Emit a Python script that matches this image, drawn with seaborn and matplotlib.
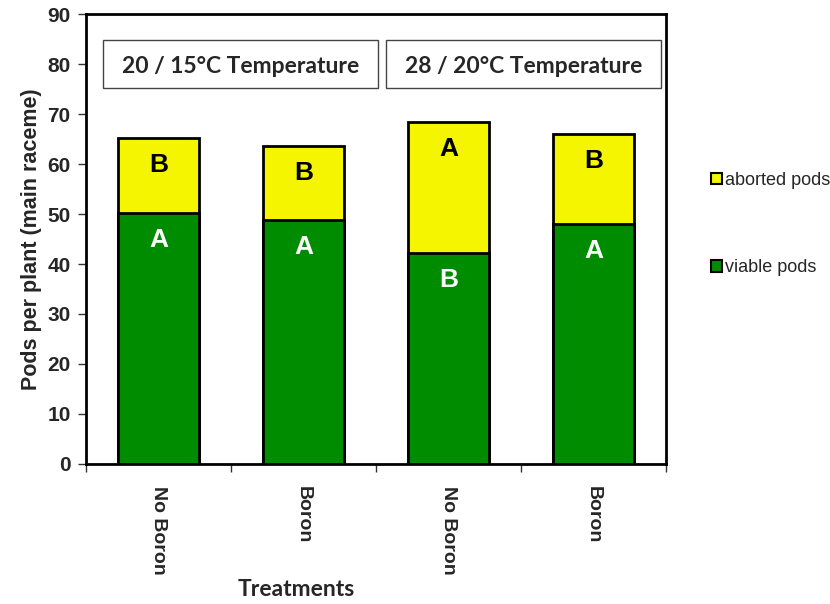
import matplotlib
matplotlib.use("Agg")
import matplotlib.pyplot as plt
import pandas as pd
import seaborn as sns
from matplotlib.patches import Patch

treatments = ["No Boron", "Boron", "No Boron", "Boron"]
positions = ["t1", "t2", "t3", "t4"]
viable_pods = [50.2, 48.8, 42.2, 48.0]
aborted_pods = [15.0, 14.8, 26.2, 18.0]
viable_letters = ["A", "A", "B", "A"]
aborted_letters = ["B", "B", "A", "B"]
temperature_labels = ["20 / 15°C Temperature", "28 / 20°C Temperature"]

GREEN = "#008c00"
YELLOW = "#f5f500"

data = pd.DataFrame(
    {
        "pos": positions,
        "viable": viable_pods,
        "total": [v + a for v, a in zip(viable_pods, aborted_pods)],
    }
)

sns.set_theme(style="white")
plt.rcParams["font.family"] = ["Liberation Sans", "DejaVu Sans"]

fig = plt.figure(figsize=(8.3, 6.04), dpi=100)
ax = fig.add_axes([0.1036, 0.2318, 0.6988, 0.745])

sns.barplot(data=data, x="pos", y="total", color=YELLOW, saturation=1,
            width=0.56, edgecolor="black", linewidth=2, ax=ax)
sns.barplot(data=data, x="pos", y="viable", color=GREEN, saturation=1,
            width=0.56, edgecolor="black", linewidth=2, ax=ax)

for i, (v, t) in enumerate(zip(data["viable"], data["total"])):
    ax.text(i, v - 5.3, viable_letters[i], ha="center", va="center",
            color="white", fontsize=19, fontweight="bold")
    ax.text(i, t - 5.3, aborted_letters[i], ha="center", va="center",
            color="black", fontsize=19, fontweight="bold")

# temperature boxes
for x0, label in zip([-0.383, 1.569], temperature_labels):
    ax.text(x0 + 0.95, 79.6, label, ha="center", va="center", fontsize=16.5,
            fontweight="bold", family=["Lato", "DejaVu Sans"])
    ax.add_patch(plt.Rectangle((x0, 75.2), 1.9, 9.6, fill=False,
                               edgecolor="#444444", linewidth=1))

ax.set_xlim(-0.5, 3.5)
ax.set_ylim(0, 90)
ax.set_yticks(range(0, 91, 10))
ax.set_xticks(range(4))
ax.set_xticklabels(treatments, rotation=270, fontsize=14, fontweight="bold")
ax.set_xticks([-0.5, 0.5, 1.5, 2.5, 3.5], minor=True)
ax.tick_params(axis="x", which="major", length=0, pad=16)
ax.tick_params(axis="x", which="minor", length=6, width=1, direction="out",
               bottom=True, color="#333333")
ax.tick_params(axis="y", length=6, width=1, direction="out", left=True,
               labelsize=15, color="#333333", pad=5)
for lab in ax.get_yticklabels():
    lab.set_fontweight("bold")

ax.set_ylabel("Pods per plant (main raceme)", fontsize=15.5, fontweight="bold",
              labelpad=4)
ax.set_xlabel("Treatments", fontsize=16.5, fontweight="bold",
              family=["Lato", "DejaVu Sans"])
ax.xaxis.set_label_coords(0.362, -0.255)

for spine in ax.spines.values():
    spine.set_color("black")
    spine.set_linewidth(2)

handles = [
    Patch(facecolor=YELLOW, edgecolor="black", linewidth=1.5),
    Patch(facecolor=GREEN, edgecolor="black", linewidth=1.5),
]
ax.legend(handles, ["aborted pods", "viable pods"], loc="upper left",
          bbox_to_anchor=(1.05, 0.685), frameon=False, handlelength=0.6,
          handleheight=0.6, handletextpad=0.15, labelspacing=3.9, fontsize=13)

fig.savefig("out.png", dpi=100)
